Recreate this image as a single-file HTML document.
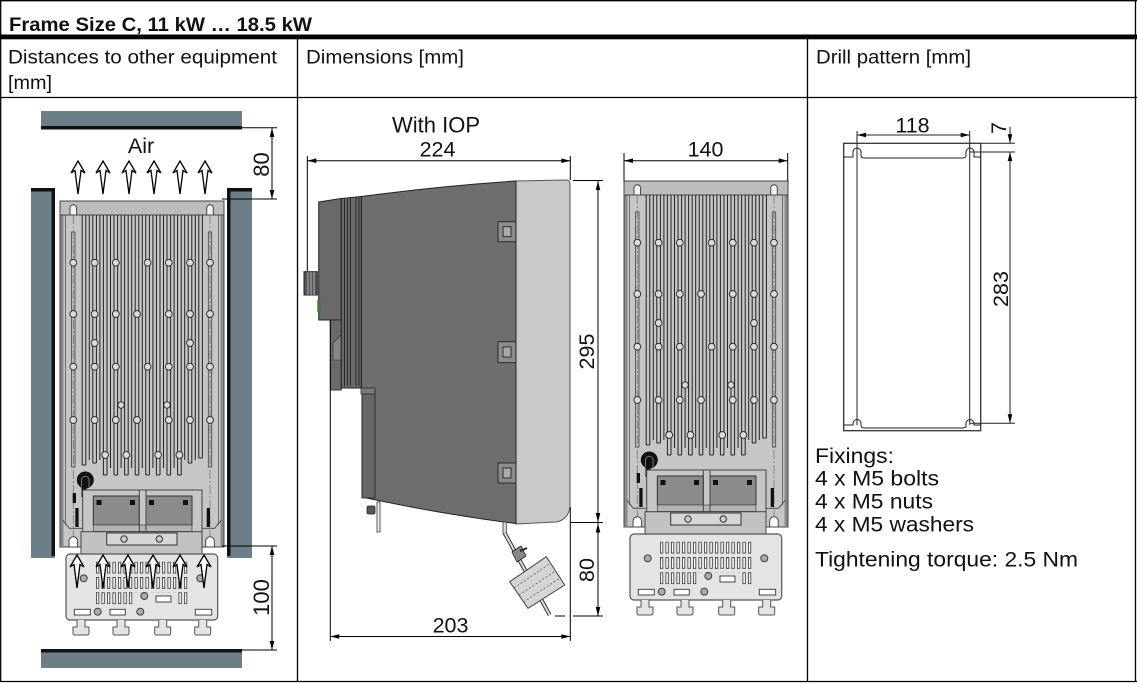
<!DOCTYPE html>
<html><head><meta charset="utf-8"><title>Frame Size C</title>
<style>
html,body{margin:0;padding:0;background:#fff;width:1138px;height:683px;overflow:hidden}
svg{display:block}
text{font-family:"Liberation Sans",Arial,sans-serif;fill:#111}
</style></head><body>
<svg xmlns="http://www.w3.org/2000/svg" xmlns:xlink="http://www.w3.org/1999/xlink" width="1138" height="683" viewBox="0 0 1138 683">
<defs>
<pattern id="sl" patternUnits="userSpaceOnUse" x="660" y="541.7" width="5.5" height="15.3">
<rect x="0.4" y="0.4" width="2.4" height="11" fill="#fff" stroke="#333" stroke-width="0.8"/>
</pattern>
</defs>
<rect width="1138" height="683" fill="#fff"/>

<!-- TABLE -->
<g stroke="#000" stroke-width="1.3" fill="none">
<line x1="0" y1="0.7" x2="1137" y2="0.7"/>
<line x1="0.7" y1="0" x2="0.7" y2="682"/>
<line x1="1135.5" y1="0" x2="1135.5" y2="682"/>
<line x1="0" y1="681.5" x2="1137" y2="681.5"/>
<line x1="0" y1="97.5" x2="1137" y2="97.5"/>
<line x1="297.5" y1="39" x2="297.5" y2="682"/>
<line x1="807.5" y1="39" x2="807.5" y2="682"/>
</g>
<rect x="0" y="34.5" width="1137" height="4.8" fill="#000"/>

<text x="9" y="30.8" font-size="19" font-weight="bold" textLength="303" lengthAdjust="spacingAndGlyphs">Frame Size C, 11 kW … 18.5 kW</text>
<text x="8" y="63.5" font-size="19.5" textLength="269" lengthAdjust="spacingAndGlyphs">Distances to other equipment</text>
<text x="8" y="89" font-size="19.5" textLength="44" lengthAdjust="spacingAndGlyphs">[mm]</text>
<text x="306" y="63.5" font-size="19.5" textLength="158" lengthAdjust="spacingAndGlyphs">Dimensions [mm]</text>
<text x="816" y="63.5" font-size="19.5" textLength="155" lengthAdjust="spacingAndGlyphs">Drill pattern [mm]</text>

<!-- ===== FRONT VIEW DRIVE (reused) ===== -->
<g id="drv">
 <rect x="624" y="181" width="164" height="346" fill="#c6c6c6" stroke="#444" stroke-width="1"/>
 <rect x="624.5" y="195" width="3" height="331" fill="#8a8a8a"/>
 <rect x="784.5" y="195" width="3" height="331" fill="#8a8a8a"/>
 <rect x="624" y="181" width="164" height="14" fill="#bdbdbd" stroke="#444"/>
 <path d="M634,195 V188 A3.3,3.3 0 0 1 640.6,188 V195 Z M770.7,195 V188 A3.3,3.3 0 0 1 777.3,188 V195 Z" fill="#f2f2f2" stroke="#444"/>
 <rect x="635.6" y="212" width="3.4" height="235" fill="#bcbcbc" stroke="#444" stroke-width="0.8"/>
 <rect x="772.3" y="212" width="3.4" height="235" fill="#bcbcbc" stroke="#444" stroke-width="0.8"/>
 <path d="M637.3,195 V520 M774,195 V520" stroke="#777" stroke-width="0.8" stroke-dasharray="9 2 2 2" fill="none"/>
 <path d="M629.5 195V505 M782.5 195V505" stroke="#555" stroke-width="0.8" fill="none"/>
 <path d="M646.2 195V445 M649.8 195V445 M653.3 195V440 M656.8 195V443 M660.4 195V443 M663.9 195V440 M667.4 195V455 M671 195V455 M674.5 195V448 M678 195V455 M681.6 195V455 M685.1 195V448 M688.6 195V455 M692.2 195V455 M695.7 195V448 M699.2 195V455 M702.8 195V455 M706.3 195V448 M709.8 195V455 M713.4 195V455 M716.9 195V448 M720.4 195V455 M724 195V455 M727.5 195V448 M731 195V455 M734.6 195V455 M738.1 195V448 M741.6 195V455 M745.2 195V455 M748.7 195V440 M752.2 195V443 M755.8 195V443 M759.3 195V440 M762.8 195V438 M766.4 195V438 M646.2 445H649.8 M656.8 443H660.4 M667.4 455H671 M678 455H681.6 M688.6 455H692.2 M699.2 455H702.8 M709.8 455H713.4 M720.4 455H724 M731 455H734.6 M741.6 455H745.2 M752.2 443H755.8 M762.8 438H766.4" stroke="#222" stroke-width="1" fill="none"/>
 <g fill="#dadada" stroke="#222" stroke-width="0.9">
  <circle cx="637.3" cy="242.7" r="3.4"/><circle cx="658.6" cy="242.7" r="3.4"/><circle cx="679.8" cy="242.7" r="3.4"/><circle cx="711.6" cy="242.7" r="3.4"/><circle cx="732.8" cy="242.7" r="3.4"/><circle cx="754" cy="242.7" r="3.4"/><circle cx="774" cy="242.7" r="3.4"/>
  <circle cx="637.3" cy="294" r="3.4"/><circle cx="658.6" cy="294" r="3.4"/><circle cx="679.8" cy="294" r="3.4"/><circle cx="701" cy="294" r="3.4"/><circle cx="732.8" cy="294" r="3.4"/><circle cx="754" cy="294" r="3.4"/><circle cx="774" cy="294" r="3.4"/>
  <circle cx="658.6" cy="323" r="3.4"/><circle cx="754" cy="323" r="3.4"/>
  <circle cx="637.3" cy="346.7" r="3.4"/><circle cx="658.6" cy="346.7" r="3.4"/><circle cx="679.8" cy="346.7" r="3.4"/><circle cx="711.6" cy="346.7" r="3.4"/><circle cx="732.8" cy="346.7" r="3.4"/><circle cx="754" cy="346.7" r="3.4"/><circle cx="774" cy="346.7" r="3.4"/>
  <circle cx="685.1" cy="385" r="3.2"/><circle cx="731" cy="385" r="3.2"/>
  <circle cx="637.3" cy="400" r="3.4"/><circle cx="658.6" cy="400" r="3.4"/><circle cx="679.8" cy="400" r="3.4"/><circle cx="701" cy="400" r="3.4"/><circle cx="732.8" cy="400" r="3.4"/><circle cx="754" cy="400" r="3.4"/><circle cx="774" cy="400" r="3.4"/>
  <circle cx="669.2" cy="435" r="3.4"/><circle cx="690.4" cy="435" r="3.4"/><circle cx="722.2" cy="435" r="3.4"/><circle cx="743.4" cy="435" r="3.4"/>
 </g>
 <!-- feet -->
 <path d="M626.7,500 L633.3,508.3 L646.7,508.3 M785.3,500 L778.7,508.3 L766,508.3" stroke="#444" stroke-width="0.9" fill="none"/>
 <path d="M633,527 V521 A4.3,4.3 0 0 1 641.6,521 V527 Z M769.7,527 V521 A4.3,4.3 0 0 1 778.3,521 V527 Z" fill="#fff" stroke="#444"/>
 <!-- gland & bars -->
 <circle cx="649.3" cy="460" r="8.5" fill="#111"/>
 <path d="M645.5,467 V460 A3.8,3.8 0 0 1 653.1,460 V467" stroke="#777" stroke-width="1" fill="none"/>
 <rect x="645.5" y="466" width="5" height="11" fill="#111"/>
 <rect x="636.7" y="473" width="3.3" height="10" fill="#111"/>
 <rect x="639.3" y="488" width="3.3" height="19" fill="#111"/>
 <rect x="770.7" y="488" width="3.3" height="19" fill="#111"/>
 <!-- connector -->
 <rect x="646.7" y="470" width="119.3" height="42" fill="#c6c6c6" stroke="#444"/>
 <rect x="657.3" y="476" width="46" height="29" fill="#8b8b8b" stroke="#333"/>
 <rect x="710" y="476" width="46" height="29" fill="#8b8b8b" stroke="#333"/>
 <rect x="657.3" y="505" width="98.7" height="6.5" fill="#b3b3b3" stroke="#444" stroke-width="0.7"/>
 <path d="M703.3,470 V512 M710,470 V512" stroke="#444" fill="none"/>
 <g fill="#111"><rect x="660.5" y="480" width="5" height="5"/><rect x="694" y="480" width="5" height="5"/><rect x="713" y="480" width="5" height="5"/><rect x="747" y="480" width="5" height="5"/></g>
 <rect x="645" y="511.7" width="121" height="22.3" fill="#c2c2c2" stroke="#444"/>
 <rect x="670.7" y="513" width="70.3" height="12" fill="#d6d6d6" stroke="#333"/>
 <circle cx="688" cy="519" r="3.2" fill="#ccc" stroke="#333"/><circle cx="723.3" cy="519" r="3.2" fill="#ccc" stroke="#333"/>
 <!-- shield plate -->
 <rect x="630" y="534" width="151.7" height="66" rx="4" fill="#e4e4e4" stroke="#555" stroke-width="1.2"/>
 <rect x="660" y="541.7" width="93" height="30.6" fill="url(#sl)"/>
 <rect x="660" y="572.3" width="38.5" height="12" fill="url(#sl)"/>
 <rect x="742.5" y="572.3" width="11" height="12" fill="url(#sl)"/>
 <g fill="#fff" stroke="#333" stroke-width="0.9">
  <rect x="720" y="576" width="15" height="6"/>
  <rect x="638.3" y="589.3" width="16" height="5.7"/><rect x="674" y="589.3" width="15.3" height="5.7"/><rect x="759.3" y="589.3" width="16.4" height="5.7"/>
 </g>
 <g fill="#aaa" stroke="#333" stroke-width="0.9">
  <circle cx="647.7" cy="558.3" r="3.5"/><circle cx="764.3" cy="558.3" r="3.5"/><circle cx="661.7" cy="591.7" r="3.5"/><circle cx="704.3" cy="591.7" r="3.5"/><circle cx="708.3" cy="576" r="3.5"/>
 </g>
 <path d="M641,600 V607 H637 V613 Q637,615 639,615 H651 Q653,615 653,613 V607 H649 V600 M681,600 V607 H677 V613 Q677,615 679,615 H691 Q693,615 693,613 V607 H689 V600 M722.7,600 V607 H718.7 V613 Q718.7,615 720.7,615 H732.7 Q734.7,615 734.7,613 V607 H730.7 V600 M762.7,600 V607 H758.7 V613 Q758.7,615 760.7,615 H772.7 Q774.7,615 774.7,613 V607 H770.7 V600" fill="#e4e4e4" stroke="#555" stroke-width="1"/>
</g>

<!-- ===== LEFT PANEL ===== -->
<g fill="#6c7f88">
<rect x="41" y="111" width="201" height="16"/>
<rect x="31" y="188" width="24" height="370"/>
<rect x="227" y="188" width="25" height="370"/>
<rect x="41" y="652" width="201" height="16"/>
</g>
<g fill="#111">
<rect x="41" y="126" width="201" height="3.5"/>
<rect x="31" y="188" width="24" height="3.5"/>
<rect x="51.5" y="188" width="3.5" height="368"/>
<rect x="227" y="188" width="25" height="3.5"/>
<rect x="227" y="188" width="3.5" height="368"/>
<rect x="41" y="649" width="201" height="3.5"/>
</g>
<use xlink:href="#drv" href="#drv" transform="translate(-564,20)"/>
<text x="141" y="153" font-size="21.5" text-anchor="middle">Air</text>
<g fill="#fff" stroke="#000" stroke-width="1.3" stroke-linejoin="miter">
<path d="M78 161L85 173L81 170.5L78 194L75 170.5L71 173Z"/>
<path d="M103 161L110 173L106 170.5L103 194L100 170.5L96 173Z"/>
<path d="M129 161L136 173L132 170.5L129 194L126 170.5L122 173Z"/>
<path d="M154 161L161 173L157 170.5L154 194L151 170.5L147 173Z"/>
<path d="M180 161L187 173L183 170.5L180 194L177 170.5L173 173Z"/>
<path d="M205 161L212 173L208 170.5L205 194L202 170.5L198 173Z"/>
<path d="M77 555L84 567L80 564.5L77 588L74 564.5L70 567Z"/>
<path d="M103 555L110 567L106 564.5L103 588L100 564.5L96 567Z"/>
<path d="M128 555L135 567L131 564.5L128 588L125 564.5L121 567Z"/>
<path d="M153 555L160 567L156 564.5L153 588L150 564.5L146 567Z"/>
<path d="M180 555L187 567L183 564.5L180 588L177 564.5L173 567Z"/>
<path d="M204 555L211 567L207 564.5L204 588L201 564.5L197 567Z"/>
</g>
<!-- left dims -->
<g stroke="#000" stroke-width="1" fill="none">
<path d="M242 127.7H277 M272 128V199 M222 199H277 M222 546H277 M242 650H277 M272 546V650"/>
</g>
<g fill="#000">
<polygon points="272,128 269.7,137 274.3,137"/>
<polygon points="272,199 269.7,190 274.3,190"/>
<polygon points="272,546 269.7,555 274.3,555"/>
<polygon points="272,650 269.7,641 274.3,641"/>
</g>
<text transform="translate(269,164.5) rotate(-90)" font-size="22" text-anchor="middle">80</text>
<text transform="translate(269,597.5) rotate(-90)" font-size="22" text-anchor="middle">100</text>

<!-- ===== SIDE VIEW ===== -->
<text x="436" y="132.3" font-size="22" text-anchor="middle">With IOP</text>
<text x="437.5" y="156.7" font-size="21.5" text-anchor="middle">224</text>
<path d="M516,181 L566,180 Q570,180 570,184 L570,507 Q568,520 556,522 L516,524 Z" fill="#c9c9c9" stroke="#555" stroke-width="1"/>
<path d="M361.3,196.5 Q440,186 516,181 L516,523.5 Q440,514 362,497 L362,390 L361.3,390 Z" fill="#6e6e6e" stroke="#222" stroke-width="1"/>
<rect x="362" y="391" width="13" height="107" fill="#676767" stroke="#222" stroke-width="0.8"/>
<path d="M318.7,202 L341.3,198.5 L341.3,320 L318.7,320 Z" fill="#696969" stroke="#222" stroke-width="1"/>
<rect x="330.3" y="320" width="11" height="70" fill="#6a6a6a" stroke="#222" stroke-width="0.8"/>
<path d="M333,343 L341,335 L341,360 L333,360 Z" fill="#858585" stroke="#333" stroke-width="0.6"/>
<path d="M341.3,198.5 L361.3,196.5 L361.3,388 L341.3,388 Z" fill="#6a6a6a" stroke="#222" stroke-width="1"/>
<path d="M344.5 199V386 M347.5 199V386 M350.5 198V386 M356 197.5V386 M359 197V386" stroke="#222" stroke-width="0.9" fill="none"/>
<rect x="361" y="388" width="14" height="6" fill="#7a7a7a" stroke="#222" stroke-width="0.7"/>
<rect x="304" y="271.7" width="13.3" height="23.3" fill="#555" stroke="#222"/>
<path d="M308 272V295 M311 272V295 M314 272V295" stroke="#ccc" stroke-width="0.8"/>
<rect x="317.3" y="300" width="3" height="12" fill="#3a7a3a"/>
<g fill="#8c8c8c" stroke="#222" stroke-width="0.9">
<rect x="498" y="221.7" width="18" height="20"/><rect x="498" y="341.7" width="18" height="21"/><rect x="498" y="463" width="18" height="20"/>
</g>
<g fill="#aaa" stroke="#222" stroke-width="0.9">
<rect x="503" y="226.7" width="8" height="10"/><rect x="503" y="347" width="8" height="10"/><rect x="503" y="468" width="8" height="10"/>
</g>
<rect x="377" y="502" width="3" height="30" fill="#eee" stroke="#333" stroke-width="0.8"/>
<rect x="367" y="506" width="8" height="8" rx="1.5" fill="#555" stroke="#222" stroke-width="0.8"/>
<rect x="503" y="522" width="3.3" height="11.3" fill="#ddd" stroke="#333" stroke-width="0.8"/>
<line x1="504.6" y1="533" x2="549.7" y2="615" stroke="#333" stroke-width="4"/>
<line x1="504.6" y1="533" x2="549.7" y2="615" stroke="#ddd" stroke-width="2"/>
<polygon points="509.7,581.7 546.3,556.7 564.7,585 528,608.3" fill="#d5d5d5" stroke="#444" stroke-width="1"/>
<path d="M519,595 L555.5,571 M514,588 L550,563.5 M523.5,602 L560,578" stroke="#666" stroke-width="0.9" stroke-dasharray="2 2" fill="none"/>
<polygon points="512,552 521,546 526,556 517,562" fill="#888" stroke="#222" stroke-width="0.8"/>
<line x1="520" y1="551" x2="527" y2="548" stroke="#222" stroke-width="2"/>
<g stroke="#000" stroke-width="1" fill="none">
<path d="M307.3 160.7H570.3 M307.3 156V271 M570.3 156V180 M573 180.5H603 M598 181V522 M570 522.5H603 M598 523V616 M555 616H565 M573 616H603 M330.3 320V641 M570.3 507V641 M330.3 636.5H570.3"/>
</g>
<g fill="#000">
<polygon points="307.3,160.7 316.3,158.4 316.3,163"/>
<polygon points="570.3,160.7 561.3,158.4 561.3,163"/>
<polygon points="598,181 595.7,190 600.3,190"/>
<polygon points="598,522 595.7,513 600.3,513"/>
<polygon points="598,523.5 595.7,532.5 600.3,532.5"/>
<polygon points="598,616 595.7,607 600.3,607"/>
<polygon points="330.3,636.5 339.3,634.2 339.3,638.8"/>
<polygon points="570.3,636.5 561.3,634.2 561.3,638.8"/>
</g>
<text transform="translate(594,351.5) rotate(-90)" font-size="21.5" text-anchor="middle">295</text>
<text transform="translate(594,570) rotate(-90)" font-size="21.5" text-anchor="middle">80</text>
<text x="450.5" y="632.7" font-size="21.5" text-anchor="middle">203</text>

<g stroke="#000" stroke-width="1" fill="none">
<path d="M624 160.7H787.7 M624 153V181 M787.7 153V181"/>
</g>
<g fill="#000">
<polygon points="624,160.7 633,158.4 633,163"/>
<polygon points="787.7,160.7 778.7,158.4 778.7,163"/>
</g>
<text x="705.5" y="156.7" font-size="21.5" text-anchor="middle">140</text>

<!-- ===== DRILL PATTERN ===== -->
<rect x="843.7" y="143.3" width="137" height="287.4" fill="none" stroke="#333" stroke-width="1.3"/>
<g stroke="#222" stroke-width="1" fill="none">
<path d="M857 131V425 M969.7 131V425"/>
<path d="M843.7,157 L853,157 L853,152 A4,4 0 0 1 861,152 L861,155 Q861,158 864,158 L963,158 Q966,158 966,155 L966,152 A4,4 0 0 1 974,152 L974,157 L980.7,157"/>
<path d="M843.7,425 L853,425 L853,423.5 A4,4 0 0 1 861,423.5 L861,425 Q861,428 864,428 L963,428 Q966,428 966,425 L966,423.5 A4,4 0 0 1 974,423.5 L974,425 L980.7,425"/>
<path d="M857 135H969.7 M980.7 143.3H1015 M970 152H1015 M1010 126.7V143.3 M1010 152V423.3 M970 423.3H1015"/>
</g>
<g fill="#000">
<polygon points="857,135 866,132.7 866,137.3"/>
<polygon points="969.7,135 960.7,132.7 960.7,137.3"/>
<polygon points="1010,143.3 1007.7,134.3 1012.3,134.3"/>
<polygon points="1010,152 1007.7,161 1012.3,161"/>
<polygon points="1010,423.3 1007.7,414.3 1012.3,414.3"/>
</g>
<text x="912.5" y="132.3" font-size="21.5" text-anchor="middle">118</text>
<text transform="translate(1006,128) rotate(-90)" font-size="21.5" text-anchor="middle">7</text>
<text transform="translate(1008,289) rotate(-90)" font-size="21.5" text-anchor="middle">283</text>

<text x="815" y="463" font-size="21" textLength="79" lengthAdjust="spacingAndGlyphs">Fixings:</text>
<text x="815" y="485.5" font-size="21" textLength="124" lengthAdjust="spacingAndGlyphs">4 x M5 bolts</text>
<text x="815" y="508.5" font-size="21" textLength="118" lengthAdjust="spacingAndGlyphs">4 x M5 nuts</text>
<text x="815" y="531.5" font-size="21" textLength="159" lengthAdjust="spacingAndGlyphs">4 x M5 washers</text>
<text x="815" y="566.7" font-size="21" textLength="263" lengthAdjust="spacingAndGlyphs">Tightening torque: 2.5 Nm</text>
</svg>
</body></html>
